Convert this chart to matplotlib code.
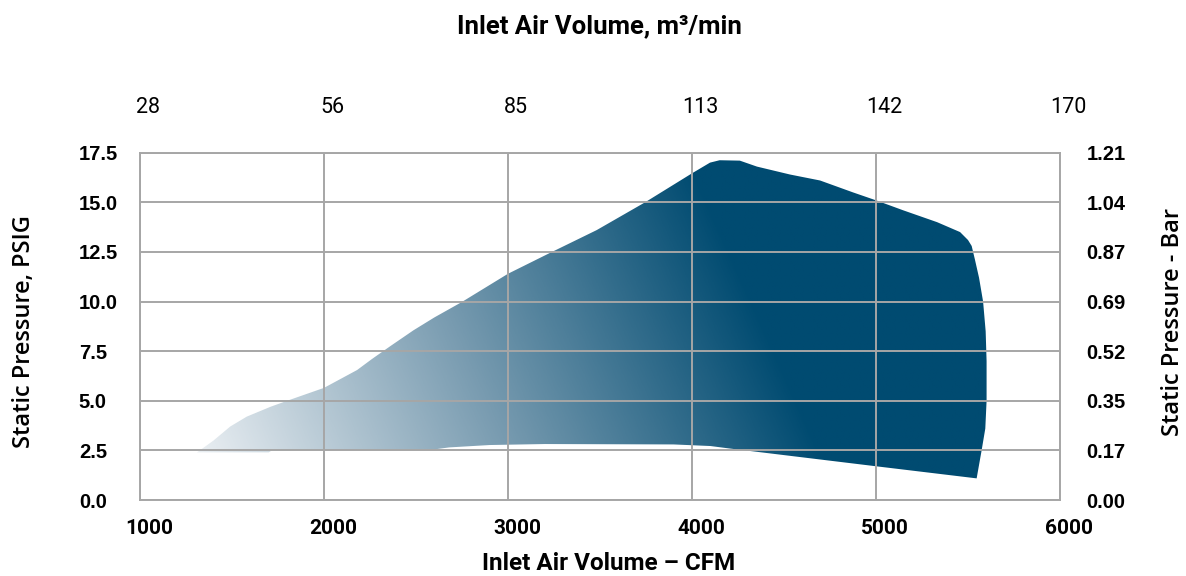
import numpy as np
import matplotlib
matplotlib.use("Agg")
import matplotlib.pyplot as plt
from matplotlib.colors import LinearSegmentedColormap
from matplotlib.patches import Polygon
from matplotlib.transforms import ScaledTranslation

# Operating envelope outline (CFM, PSIG): top edge left->right then down the right side
top_cfm = [1310, 1400, 1490, 1580, 1710, 1815, 2000, 2180, 2260, 2360, 2486, 2600,
           2748, 3000, 3228, 3482, 3745, 3998, 4098, 4150, 4260, 4353, 4533, 4696,
           4875, 5000, 5147, 5332, 5457, 5500, 5520, 5538, 5560, 5582, 5596, 5601,
           5601, 5594, 5574, 5547]
top_psig = [2.40, 3.0, 3.7, 4.2, 4.7, 5.05, 5.65, 6.55, 7.1, 7.75, 8.55, 9.2,
            9.97, 11.4, 12.45, 13.6, 15.0, 16.45, 17.0, 17.12, 17.1, 16.8, 16.4, 16.1,
            15.5, 15.1, 14.6, 14.0, 13.5, 13.1, 12.8, 12.1, 11.2, 10.0, 8.5, 7.0,
            5.0, 3.6, 2.5, 1.09]
# bottom edge right->left
bot_cfm = [5000, 4200, 4100, 3900, 3200, 2900, 2680, 2600, 1717, 1700, 1310]
bot_psig = [1.70, 2.60, 2.72, 2.80, 2.82, 2.77, 2.65, 2.55, 2.50, 2.40, 2.40]

cfm_ticks = [1000, 2000, 3000, 4000, 5000, 6000]
m3_labels = ["28", "56", "85", "113", "142", "170"]
psig_ticks = [0.0, 2.5, 5.0, 7.5, 10.0, 12.5, 15.0, 17.5]
bar_labels = ["0.00", "0.17", "0.35", "0.52", "0.69", "0.87", "1.04", "1.21"]

light = "#e9eef2"
mid = "#789bb0"
dark = "#004b71"
grid_col = "#a6a6a6"

narrow = ["Roboto", "DejaVu Sans"]
arial = ["Liberation Sans", "DejaVu Sans"]
label_font = ["Open Sans", "DejaVu Sans"]

fig = plt.figure(figsize=(11.86, 5.76), dpi=100)
ax = fig.add_axes([140 / 1186, 76 / 576, 920 / 1186, 347.3 / 576])
ax.set_xlim(1000, 6000)
ax.set_ylim(0, 17.5)

# gradient image, slightly tilted (darker sooner at the top)
gx = np.linspace(1000, 6000, 800)
gy = np.linspace(0, 17.5, 300)
GX, GY = np.meshgrid(gx, gy)
xp = 140 + (GX - 1000) * 0.184
yp = GY * 19.85
t = np.clip((xp + 0.45 * yp - 220) / (843 - 220), 0, 1)
cmap = LinearSegmentedColormap.from_list("env", [light, mid, dark])
im = ax.imshow(t, extent=(1000, 6000, 0, 17.5), origin="lower", cmap=cmap,
               vmin=0, vmax=1, aspect="auto", interpolation="bilinear", zorder=0)
outline = np.column_stack([top_cfm + bot_cfm, top_psig + bot_psig])
patch = Polygon(outline, closed=True, transform=ax.transData, facecolor="none",
                edgecolor="none")
ax.add_patch(patch)
im.set_clip_path(patch)

ax.set_xticks(cfm_ticks)
ax.set_yticks(psig_ticks)
ax.grid(True, color=grid_col, lw=1.4)
ax.set_axisbelow(False)
for s in ax.spines.values():
    s.set_color(grid_col)
    s.set_linewidth(1.4)

ax.tick_params(axis="both", length=0)
ax.tick_params(axis="x", pad=14)
ax.tick_params(axis="y", pad=44)
ax.set_xticklabels([str(v) for v in cfm_ticks], fontfamily=narrow,
                   fontweight="bold", fontsize=15)
for lab in ax.get_xticklabels():
    lab.set_transform(lab.get_transform() + ScaledTranslation(9 / 100, 0, fig.dpi_scale_trans))
ax.set_yticklabels([f"{v:.1f}" for v in psig_ticks], fontfamily=arial,
                   fontweight="bold", fontsize=14.5, ha="left")

# top axis (m3/min)
axt = ax.twiny()
axt.set_xlim(ax.get_xlim())
axt.set_xticks(cfm_ticks)
axt.set_xticklabels(m3_labels, fontfamily=narrow, fontsize=15.5)
axt.tick_params(axis="x", length=0, pad=25)
for lab in axt.get_xticklabels():
    lab.set_transform(lab.get_transform() + ScaledTranslation(8 / 100, 0, fig.dpi_scale_trans))

# right axis (bar)
axr = ax.twinx()
axr.set_ylim(ax.get_ylim())
axr.set_yticks(psig_ticks)
axr.set_yticklabels(bar_labels, fontfamily=arial, fontweight="bold", fontsize=14.5)
axr.tick_params(axis="y", length=0, pad=19)
for a in (axt, axr):
    for s in a.spines.values():
        s.set_visible(False)

fig.text(609 / 1186, 1 - 563 / 576, "Inlet Air Volume \u2013 CFM", ha="center",
         va="center", fontfamily=narrow, fontweight="bold", fontsize=17.5)
fig.text(599 / 1186, 1 - 26 / 576, "Inlet Air Volume, m\u00b3/min", ha="center",
         va="center", fontfamily=narrow, fontweight="bold", fontsize=18.5)
fig.text(24 / 1186, 1 - 332 / 576, "Static Pressure, PSIG", ha="center",
         va="center", rotation=90, fontfamily=label_font, fontweight="semibold",
         fontsize=17)
fig.text(1173 / 1186, 1 - 322 / 576, "Static Pressure - Bar", ha="center",
         va="center", rotation=90, fontfamily=label_font, fontweight="semibold",
         fontsize=17)

fig.savefig("out.png", dpi=100)
